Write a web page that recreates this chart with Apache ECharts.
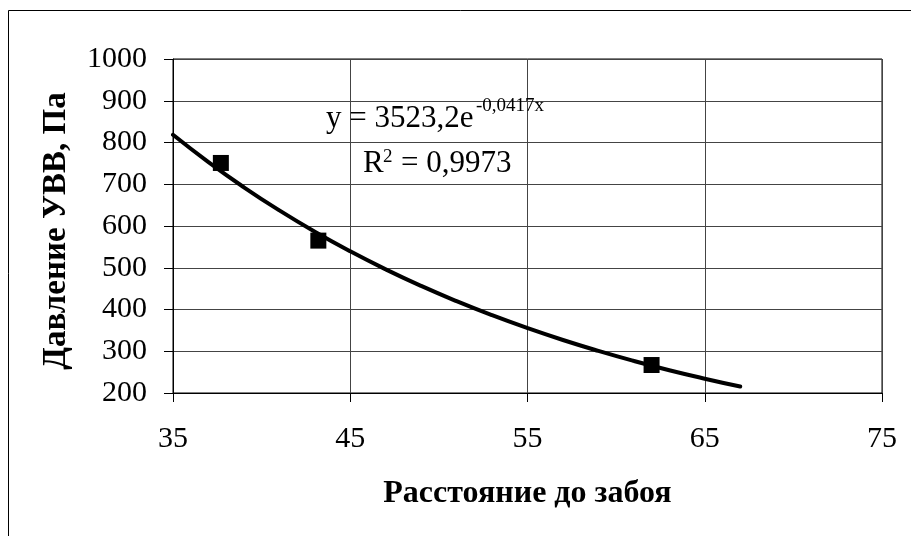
<!DOCTYPE html>
<html><head><meta charset="utf-8">
<script src="https://cdn.jsdelivr.net/npm/echarts@6/dist/echarts.min.js"></script>
<style>html,body{margin:0;padding:0;background:#fff}#c{width:911px;height:536px}</style>
</head><body><div id="c"></div>
<script>
// measured points
const distX = [37.7, 43.2, 62.0];
const pressureY = [751, 565, 267];
// trendline
const trendX = [35, 37, 39, 41, 43, 45, 47, 49, 51, 53, 55, 57, 59, 61, 63, 65, 67];
const trendY = [818.5, 753.0, 692.7, 637.3, 586.3, 539.4, 496.2, 456.5, 420.0, 386.4, 355.5, 327.0, 300.9, 276.8, 254.6, 234.3, 215.5];
const xTicks = [35, 45, 55, 65, 75];
const yTicks = [200, 300, 400, 500, 600, 700, 800, 900, 1000];

const F = '"Liberation Serif","Times New Roman",serif';
const chart = echarts.init(document.getElementById('c'));
function txt(x, y, s, size) {
  return {type: 'text', x: x, y: y, z: 10, style: {text: s, fontFamily: F, fontSize: size, fill: '#000', align: 'left', verticalAlign: 'middle'}};
}
chart.setOption({
  animation: false,
  backgroundColor: '#fff',
  grid: {left: 173, right: 29, top: 59, bottom: 143, show: true, borderColor: '#000', borderWidth: 1},
  xAxis: {
    type: 'value', min: xTicks[0], max: xTicks[xTicks.length-1], interval: 10,
    name: 'Расстояние до забоя', nameLocation: 'middle', nameGap: 85,
    nameTextStyle: {fontFamily: F, fontSize: 32, fontWeight: 'bold', color: '#000'},
    axisLine: {show: true, lineStyle: {color: '#000', width: 1}},
    axisTick: {show: true, length: 9, inside: false, lineStyle: {color: '#000'}},
    axisLabel: {fontFamily: F, fontSize: 30, color: '#000', margin: 31, formatter: v => String(v)},
    splitLine: {show: true, lineStyle: {color: '#444', width: 1}}
  },
  yAxis: {
    type: 'value', min: yTicks[0], max: yTicks[yTicks.length-1], interval: 100,
    name: 'Давление УВВ, Па', nameLocation: 'middle', nameGap: 100,
    nameTextStyle: {fontFamily: F, fontSize: 33, fontWeight: 'bold', color: '#000', padding: [0, 10, 0, 0]},
    axisLine: {show: true, lineStyle: {color: '#000', width: 1}},
    axisTick: {show: true, length: 9, lineStyle: {color: '#000'}},
    axisLabel: {fontFamily: F, fontSize: 30, color: '#000', margin: 26, formatter: v => String(v)},
    splitLine: {show: true, lineStyle: {color: '#444', width: 1}}
  },
  series: [
    {type: 'line', data: trendX.map((x, i) => [x, trendY[i]]), smooth: true, showSymbol: false,
     lineStyle: {color: '#000', width: 4, cap: 'round'}, z: 3},
    {type: 'scatter', data: distX.map((x, i) => [x, pressureY[i]]), symbol: 'rect', symbolSize: 16,
     itemStyle: {color: '#000', opacity: 1}, z: 4}
  ],
  graphic: [
    {type: 'rect', shape: {x: 8.5, y: 10.5, width: 920, height: 540}, style: {fill: 'none', stroke: '#000', lineWidth: 1}, z: -10},
    txt(326, 118.8, 'y = 3523,2e', 31),
    txt(476, 106.5, '-0,0417x', 19),
    txt(363, 163.5, 'R', 31),
    txt(383, 157.5, '2', 19),
    txt(401, 163.5, '= 0,9973', 31)
  ]
});
</script></body></html>
